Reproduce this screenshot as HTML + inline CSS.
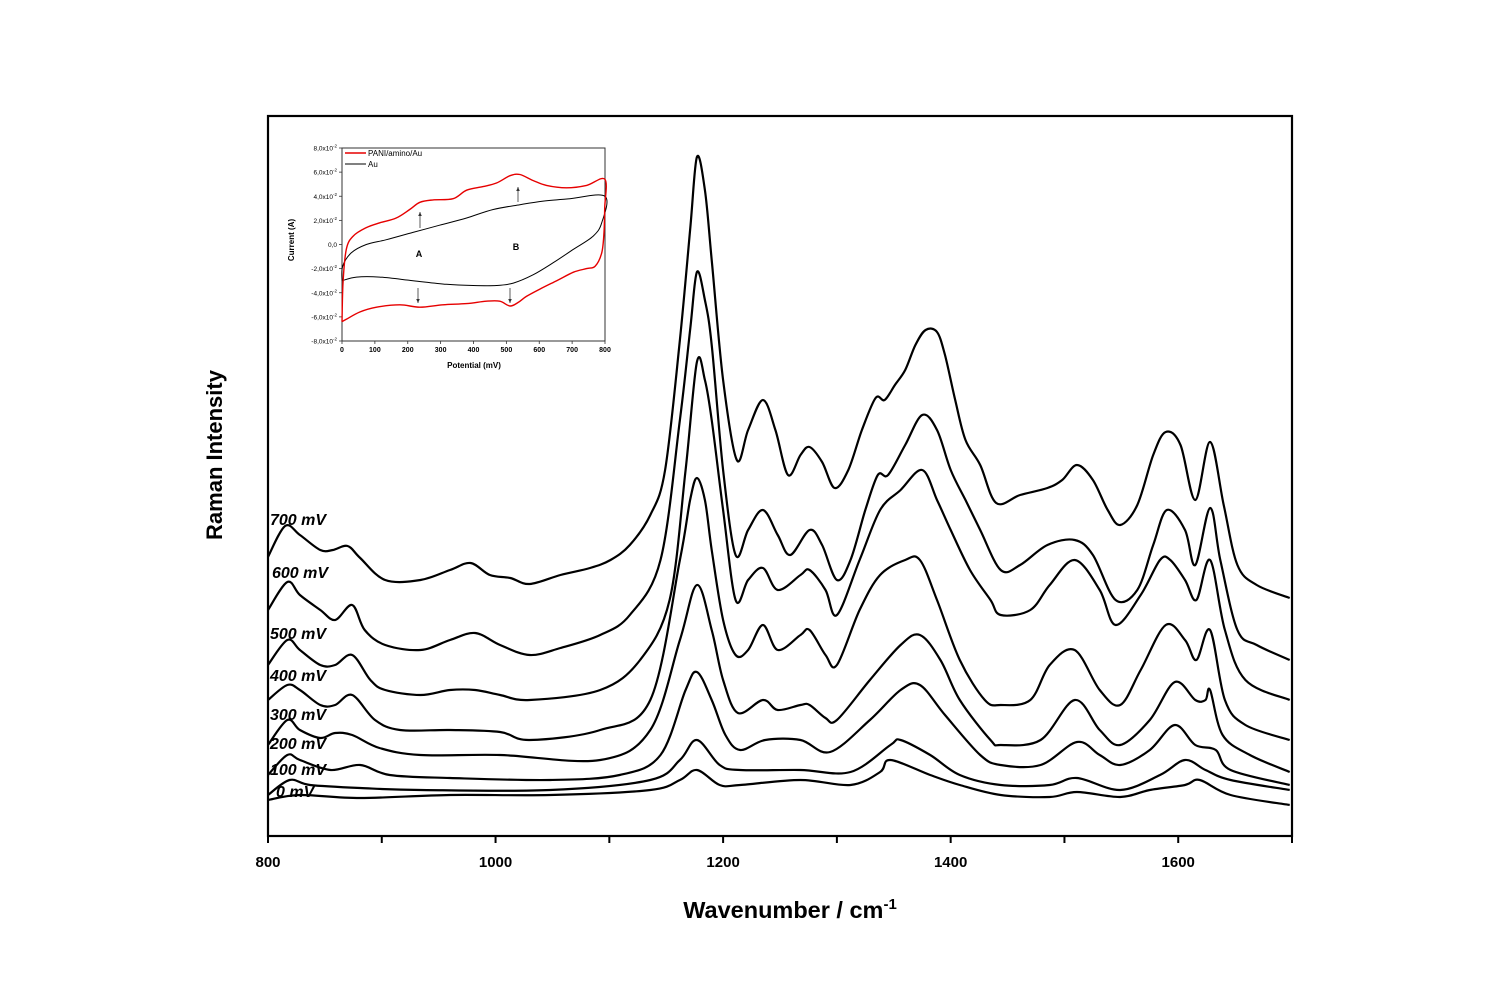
<!DOCTYPE html>
<html><head><meta charset="utf-8">
<style>
html,body{margin:0;padding:0;background:#fff;}
svg{display:block;font-family:"Liberation Sans",Arial,sans-serif;}
</style></head>
<body>
<svg id="chart" width="1500" height="1000" viewBox="0 0 1500 1000" xmlns="http://www.w3.org/2000/svg">
<rect x="0" y="0" width="1500" height="1000" fill="#fff"/>
<g id="main"></g>
<g id="inset"></g>
</svg>
<script>
// ---------- main chart data (wavenumber cm-1, intensity a.u.) ----------
const xTicks = [800,900,1000,1100,1200,1300,1400,1500,1600,1700];
const xTickLabels = ["800","","1000","","1200","","1400","","1600",""];
const traceLabels = ["700 mV","600 mV","500 mV","400 mV","300 mV","200 mV","100 mV","0 mV"];
const w700 = [800,815,828,846,857,870,881,903,934,960,978,995,1013,1030,1057,1083,1101,1118,1136,1149,1162,1171,1177,1184,1190,1200,1212,1222,1235,1246,1257,1268,1276,1287,1298,1310,1322,1334,1342,1351,1360,1369,1378,1388,1395,1404,1413,1426,1440,1461,1485,1498,1511,1525,1538,1549,1564,1578,1589,1602,1615,1628,1640,1652,1669,1698];
const i700 = [279,310,301,286,286,290,278,256,256,266,273,261,258,252,261,268,276,291,321,366,496,606,679,646,576,456,376,406,436,406,361,381,389,374,348,366,406,438,436,451,466,491,506,504,481,436,396,371,333,341,348,356,371,356,326,311,331,381,404,391,336,394,331,271,251,238];
const w600 = [800,817,828,846,859,874,885,903,934,960,982,1004,1030,1057,1092,1118,1145,1162,1171,1177,1184,1190,1200,1211,1222,1235,1248,1259,1276,1287,1300,1312,1325,1336,1345,1360,1375,1388,1400,1413,1426,1444,1461,1485,1509,1525,1545,1564,1578,1590,1606,1615,1628,1637,1652,1669,1698];
const i600 = [226,254,241,226,216,231,206,191,186,196,203,191,181,188,201,221,276,416,506,564,536,491,366,281,306,326,301,281,306,291,256,276,326,361,361,391,421,406,366,336,306,266,271,291,296,281,236,246,291,326,306,271,328,276,206,191,176];
const w500 = [800,817,828,846,859,874,890,903,934,960,982,1004,1030,1092,1127,1153,1167,1177,1184,1190,1200,1211,1222,1235,1248,1268,1276,1290,1300,1320,1338,1356,1375,1388,1400,1417,1435,1444,1470,1487,1509,1531,1545,1567,1584,1593,1606,1616,1628,1641,1659,1698];
const i500 = [171,196,186,171,171,181,156,146,141,146,146,141,136,146,176,236,366,474,456,416,326,236,256,268,246,261,266,246,221,276,326,346,366,336,306,266,236,221,226,251,276,246,211,241,276,276,256,236,276,206,156,136];
const w400 = [800,817,828,846,859,874,894,916,960,1004,1030,1092,1136,1162,1171,1177,1184,1190,1200,1211,1222,1235,1248,1268,1276,1290,1300,1320,1338,1360,1373,1388,1408,1430,1444,1470,1487,1509,1531,1549,1567,1589,1606,1616,1628,1641,1659,1698];
const i400 = [136,151,146,131,131,141,116,106,106,104,96,106,136,276,336,358,336,286,216,181,186,211,186,201,206,181,171,226,261,276,276,236,176,136,131,136,171,186,146,131,166,211,196,176,206,136,111,96];
const w300 = [800,817,828,846,859,874,898,934,1004,1092,1136,1162,1177,1190,1200,1213,1235,1248,1268,1276,1290,1300,1329,1356,1373,1391,1408,1435,1444,1479,1509,1531,1549,1575,1597,1615,1624,1628,1639,1663,1698];
const i300 = [91,116,106,98,103,101,88,81,81,76,106,196,251,206,156,123,136,126,131,131,118,116,156,191,201,176,136,96,91,96,136,106,91,116,154,136,136,146,101,81,64];
const w200 = [800,817,828,855,881,907,960,1048,1109,1145,1167,1177,1190,1202,1215,1237,1268,1294,1329,1356,1373,1395,1426,1444,1479,1511,1531,1549,1575,1597,1615,1633,1646,1698];
const i200 = [61,81,76,66,71,61,58,56,61,81,146,164,136,101,86,96,96,84,116,146,151,121,81,71,71,94,81,71,86,111,91,86,66,51];
const w100 = [800,819,837,881,934,1048,1136,1162,1177,1197,1215,1268,1312,1347,1356,1382,1408,1444,1487,1511,1549,1584,1606,1624,1646,1698];
const i100 = [41,56,51,48,46,46,56,76,96,71,66,66,64,91,96,81,61,51,51,58,46,61,76,66,56,46];
const w0 = [800,828,881,960,1048,1136,1162,1177,1197,1215,1268,1312,1338,1347,1382,1408,1444,1487,1511,1549,1575,1606,1619,1646,1698];
const i0 = [36,41,38,41,41,46,56,66,51,51,56,51,64,76,61,51,41,39,44,39,46,51,56,41,31];

// ---------- inset CV data (potential mV, current x10^-2 A) ----------
const insetXTicks = [0,100,200,300,400,500,600,700,800];
const insetYTicks = [8,6,4,2,0,-2,-4,-6,-8];
const insetYLabels = ["8,0x10","6,0x10","4,0x10","2,0x10","0,0","-2,0x10","-4,0x10","-6,0x10","-8,0x10"];
const redFwdP = [0,3,13,34,74,115,165,206,237,277,338,379,429,470,511,541,582,622,683,744,800];
const redFwdC = [-6.4,-3.2,-0.4,0.7,1.4,1.8,2.2,2.9,3.5,3.7,3.8,4.5,4.8,5.1,5.7,5.8,5.3,4.9,4.7,4.9,5.4];
const redRevP = [800,799,797,790,770,744,704,653,602,561,536,511,480,439,379,307,237,176,105,54,13,0];
const redRevC = [5.4,3.0,1.0,-0.7,-1.8,-2.0,-2.3,-3.0,-3.7,-4.3,-4.8,-5.1,-4.7,-4.7,-4.9,-5.0,-5.2,-5.0,-5.2,-5.6,-6.2,-6.4];
const auFwdP = [0,2,28,74,135,216,297,379,460,541,612,693,800];
const auFwdC = [-3.0,-1.8,-0.7,0.0,0.4,1.0,1.6,2.2,2.9,3.3,3.6,3.8,4.0];
const auRevP = [800,790,764,704,643,582,521,470,399,318,216,115,44,0];
const auRevC = [4.0,1.8,0.7,-0.4,-1.5,-2.5,-3.2,-3.4,-3.4,-3.3,-3.0,-2.7,-2.7,-3.0];

const NS = "http://www.w3.org/2000/svg";
function mk(tag, attrs, parent){const e=document.createElementNS(NS,tag);for(const k in attrs)e.setAttribute(k,attrs[k]);parent.appendChild(e);return e;}
function smoothPath(pts){
  let d="M"+pts[0][0].toFixed(1)+","+pts[0][1].toFixed(1);
  for(let i=0;i<pts.length-1;i++){
    const p0=pts[Math.max(0,i-1)],p1=pts[i],p2=pts[i+1],p3=pts[Math.min(pts.length-1,i+2)];
    const c1x=p1[0]+(p2[0]-p0[0])/6,c1y=p1[1]+(p2[1]-p0[1])/6;
    const c2x=p2[0]-(p3[0]-p1[0])/6,c2y=p2[1]-(p3[1]-p1[1])/6;
    d+=" C"+c1x.toFixed(1)+","+c1y.toFixed(1)+" "+c2x.toFixed(1)+","+c2y.toFixed(1)+" "+p2[0].toFixed(1)+","+p2[1].toFixed(1);
  }
  return d;
}

// ---------- main chart ----------
const L=268,R=1292,T=116,B=836;
const xS=w=>L+(w-800)*(R-L)/900;
const yS=v=>B-v;
const main=document.getElementById('main');

const frame=mk('rect',{x:L,y:T,width:R-L,height:B-T,fill:'none',stroke:'#000','stroke-width':2.2},main);



xTicks.forEach((t,i)=>{
  const tk=mk('line',{x1:xS(t),x2:xS(t),y1:B,y2:B+7,stroke:'#000','stroke-width':2},main);
  
  
  if(xTickLabels[i]){
    const tl=mk('text',{x:xS(t),y:867,'text-anchor':'middle','font-size':15,'font-weight':'bold'},main);
    tl.textContent=xTickLabels[i];
    
    
  }
});

const xt=mk('text',{x:790,y:918,'text-anchor':'middle','font-size':23.5,'font-weight':'bold'},main);
xt.innerHTML='Wavenumber / cm<tspan dy="-9" font-size="15">-1</tspan>';



const yt=mk('text',{x:0,y:0,'text-anchor':'middle','font-size':22,'font-weight':'bold',transform:'translate(222,455) rotate(-90)'},main);
yt.textContent='Raman Intensity';



const series=[[w700,i700],[w600,i600],[w500,i500],[w400,i400],[w300,i300],[w200,i200],[w100,i100],[w0,i0]];
const labelY=[525,578,639,681,720,749,775,797];
const labelX=[270,272,270,270,270,270,270,276];
series.forEach((s,k)=>{
  const pts=s[0].map((w,j)=>[xS(w),yS(s[1][j])]);
  const p=mk('path',{d:smoothPath(pts),fill:'none',stroke:'#000','stroke-width':2.2,'stroke-linejoin':'round'},main);
  
  
  const tl=mk('text',{x:labelX[k],y:labelY[k],'font-size':16,'font-weight':'bold','font-style':'italic'},main);
  tl.textContent=traceLabels[k];
  
  
});

// ---------- inset ----------
const iL=342,iR=605,iT=148,iB=341;
const ix=p=>iL+p*(iR-iL)/800;
const iy=c=>iT+(8-c)*(iB-iT)/16;
const inset=document.getElementById('inset');
const ib=mk('rect',{x:iL,y:iT,width:iR-iL,height:iB-iT,fill:'#fff',stroke:'#333','stroke-width':1},inset);



insetXTicks.forEach(t=>{
  const tk=mk('line',{x1:ix(t),x2:ix(t),y1:iB,y2:iB+3,stroke:'#333','stroke-width':0.8},inset);
  
  
  const tl=mk('text',{x:ix(t),y:iB+11,'text-anchor':'middle','font-size':7,'font-weight':'bold'},inset);
  tl.textContent=String(t);
  
  
});
insetYTicks.forEach((t,i)=>{
  const tk=mk('line',{x1:iL-3,x2:iL,y1:iy(t),y2:iy(t),stroke:'#333','stroke-width':0.8},inset);
  
  
  const tl=mk('text',{x:iL-5,y:iy(t)+2.5,'text-anchor':'end','font-size':6.5},inset);
  tl.innerHTML=insetYLabels[i]+(t!==0?'<tspan dy="-3" font-size="4.5">-2</tspan>':'');
  
  
});
const ixt=mk('text',{x:474,y:368,'text-anchor':'middle','font-size':8,'font-weight':'bold'},inset);
ixt.textContent='Potential (mV)';


const iyt=mk('text',{x:0,y:0,'text-anchor':'middle','font-size':8,'font-weight':'bold',transform:'translate(294,240) rotate(-90)'},inset);
iyt.textContent='Current (A)';



function loop(fp,fc,rp,rc){
  const pts=fp.map((p,j)=>[ix(p),iy(fc[j])]).concat(rp.slice(1).map((p,j)=>[ix(p),iy(rc[j+1])]));
  return smoothPath(pts);
}
const auPath=mk('path',{d:loop(auFwdP,auFwdC,auRevP,auRevC),fill:'none',stroke:'#000','stroke-width':1},inset);


const redPath=mk('path',{d:loop(redFwdP,redFwdC,redRevP,redRevC),fill:'none',stroke:'#e60000','stroke-width':1.4},inset);



// legend
const lg1=mk('line',{x1:345,x2:366,y1:153,y2:153,stroke:'#e60000','stroke-width':1.5},inset);


const lt1=mk('text',{x:368,y:156,'font-size':8},inset);
lt1.textContent='PANI/amino/Au';


const lg2=mk('line',{x1:345,x2:366,y1:164,y2:164,stroke:'#000','stroke-width':1},inset);


const lt2=mk('text',{x:368,y:167,'font-size':8},inset);
lt2.textContent='Au';



// arrows
[[420,228,212],[518,202,187],[418,288,303],[510,288,303]].forEach(a=>{
  const ln=mk('line',{x1:a[0],x2:a[0],y1:a[1],y2:a[2],stroke:'#333','stroke-width':0.8},inset);
  
  
  const dir=a[2]<a[1]?1:-1;
  const hd=mk('path',{d:`M${a[0]},${a[2]} L${a[0]-1.8},${a[2]+4*dir} L${a[0]+1.8},${a[2]+4*dir} Z`,fill:'#333'},inset);
  
  
});
const la=mk('text',{x:419,y:257,'text-anchor':'middle','font-size':9,'font-weight':'bold'},inset);
la.textContent='A';


const lb=mk('text',{x:516,y:250,'text-anchor':'middle','font-size':9,'font-weight':'bold'},inset);
lb.textContent='B';


</script>
</body></html>
